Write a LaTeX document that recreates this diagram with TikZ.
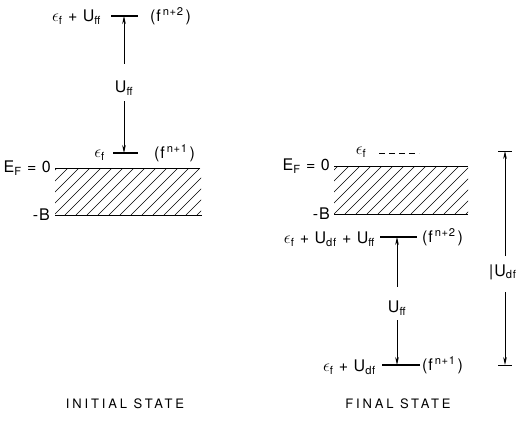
\documentclass[tikz,border=0pt]{standalone}
\usepackage{fontspec}
\setsansfont{TeX Gyre Heros}
\newfontfamily\lblfont[LetterSpace=6]{TeX Gyre Heros}
\newfontfamily\statefont[LetterSpace=22]{TeX Gyre Heros}
\usetikzlibrary{arrows.meta,positioning}

\begin{document}
\begin{tikzpicture}[x=1pt,y=-1pt,
    level/.style={line width=1.4pt},
    bandline/.style={line width=0.9pt},
    hatch/.style={line width=0.6pt},
    gap/.style={-{Stealth[length=8pt,width=3.6pt]}, line width=0.7pt},
    lbl/.style={inner sep=1pt, font=\lblfont\fontsize{16}{19}\selectfont}]
    \useasboundingbox (0,0) rectangle (518,425);
    % ---------- initial state ----------
    % band between E_F and -B
    \begin{scope}
        \clip (55,168) rectangle (201,215);
        \foreach \x in {10,21,...,220}
            \draw[hatch] (\x,215) -- ++(47,-47);
    \end{scope}
    \draw[bandline] (55,168) -- (200,168);
    \draw[bandline] (55,215) -- (202,215);
    \node[lbl, anchor=east] (iEF) at (52,168) {E\textsubscript{F} = 0};
    \node[lbl, anchor=east] (iB) at (51,215) {-B};
    % f levels
    \coordinate (i2m) at (124,16);
    \draw[level] (111,16) -- (138,16);
    \node[lbl, anchor=east] (i2lbl) at (102,17) {$\epsilon$\textsubscript{f} + U\textsubscript{ff}};
    \node[lbl, anchor=west] (i2f) at (149,16) {(f\textsuperscript{\,n+2\,})};
    \coordinate (i1m) at (124,153);
    \draw[level] (113,153) -- (138,153);
    \node[lbl, anchor=east] (i1lbl) at (106,155) {$\epsilon$\textsubscript{f}};
    \node[lbl, anchor=west] (i1f) at (153,153) {(f\textsuperscript{\,n+1\,})};
    % U_ff gap
    \node[lbl] (iU) at (124,88) {U\textsubscript{ff}};
    \draw[gap, shorten <=16pt] (iU) -- (i2m);
    \draw[gap, shorten <=5pt] (iU) -- (i1m);
    \node[lbl, font=\statefont\fontsize{13}{16}\selectfont] (init) at (125,404) {INITIAL STATE};
    % ---------- final state ----------
    \begin{scope}
        \clip (334,166) rectangle (468,214);
        \foreach \x in {290,301,...,480}
            \draw[hatch] (\x,214) -- ++(48,-48);
    \end{scope}
    \draw[bandline] (334,166) -- (468,166);
    \draw[bandline] (334,214) -- (468,214);
    \node[lbl, anchor=east] (rEF) at (331,166) {E\textsubscript{F} = 0};
    \node[lbl, anchor=east] (rB) at (331,214) {-B};
    % empty f level above E_F
    \draw[bandline, dash pattern=on 6pt off 4pt] (379,153) -- (419,153);
    \node[lbl] (r0lbl) at (361,152) {$\epsilon$\textsubscript{f}};
    % f levels below the band
    \coordinate (r2m) at (397,237);
    \draw[level] (380,237) -- (417,237);
    \node[lbl, anchor=east] (r2lbl) at (376,239) {$\epsilon$\textsubscript{f} + U\textsubscript{df} + U\textsubscript{ff}};
    \node[lbl, anchor=west] (r2f) at (421,237) {(f\textsuperscript{\,n+2\,})};
    \coordinate (r1m) at (397,365);
    \draw[level] (382,365) -- (420,365);
    \node[lbl, anchor=east] (r1lbl) at (377,367) {$\epsilon$\textsubscript{f} + U\textsubscript{df}};
    \node[lbl, anchor=west] (r1f) at (421,365) {(f\textsuperscript{\,n+1\,})};
    % U_ff gap
    \node[lbl] (rU) at (397,308) {U\textsubscript{ff}};
    \draw[gap, shorten <=13pt] (rU) -- (r2m);
    \draw[gap, shorten <=4pt] (rU) -- (r1m);
    % |U_df| span
    \coordinate (rtop) at (505,151);
    \coordinate (rbot) at (505,365);
    \draw[bandline] (498,151) -- (512,151);
    \draw[bandline] (498,365) -- (512,365);
    \node[lbl, anchor=west] (rUdf) at (488,272) {|U\textsubscript{df}};
    \draw[gap] (505,256) -- (rtop);
    \draw[gap] (505,292) -- (rbot);
    \node[lbl, font=\statefont\fontsize{13}{16}\selectfont] (fin) at (398,404) {FINAL STATE};
\end{tikzpicture}
\end{document}
